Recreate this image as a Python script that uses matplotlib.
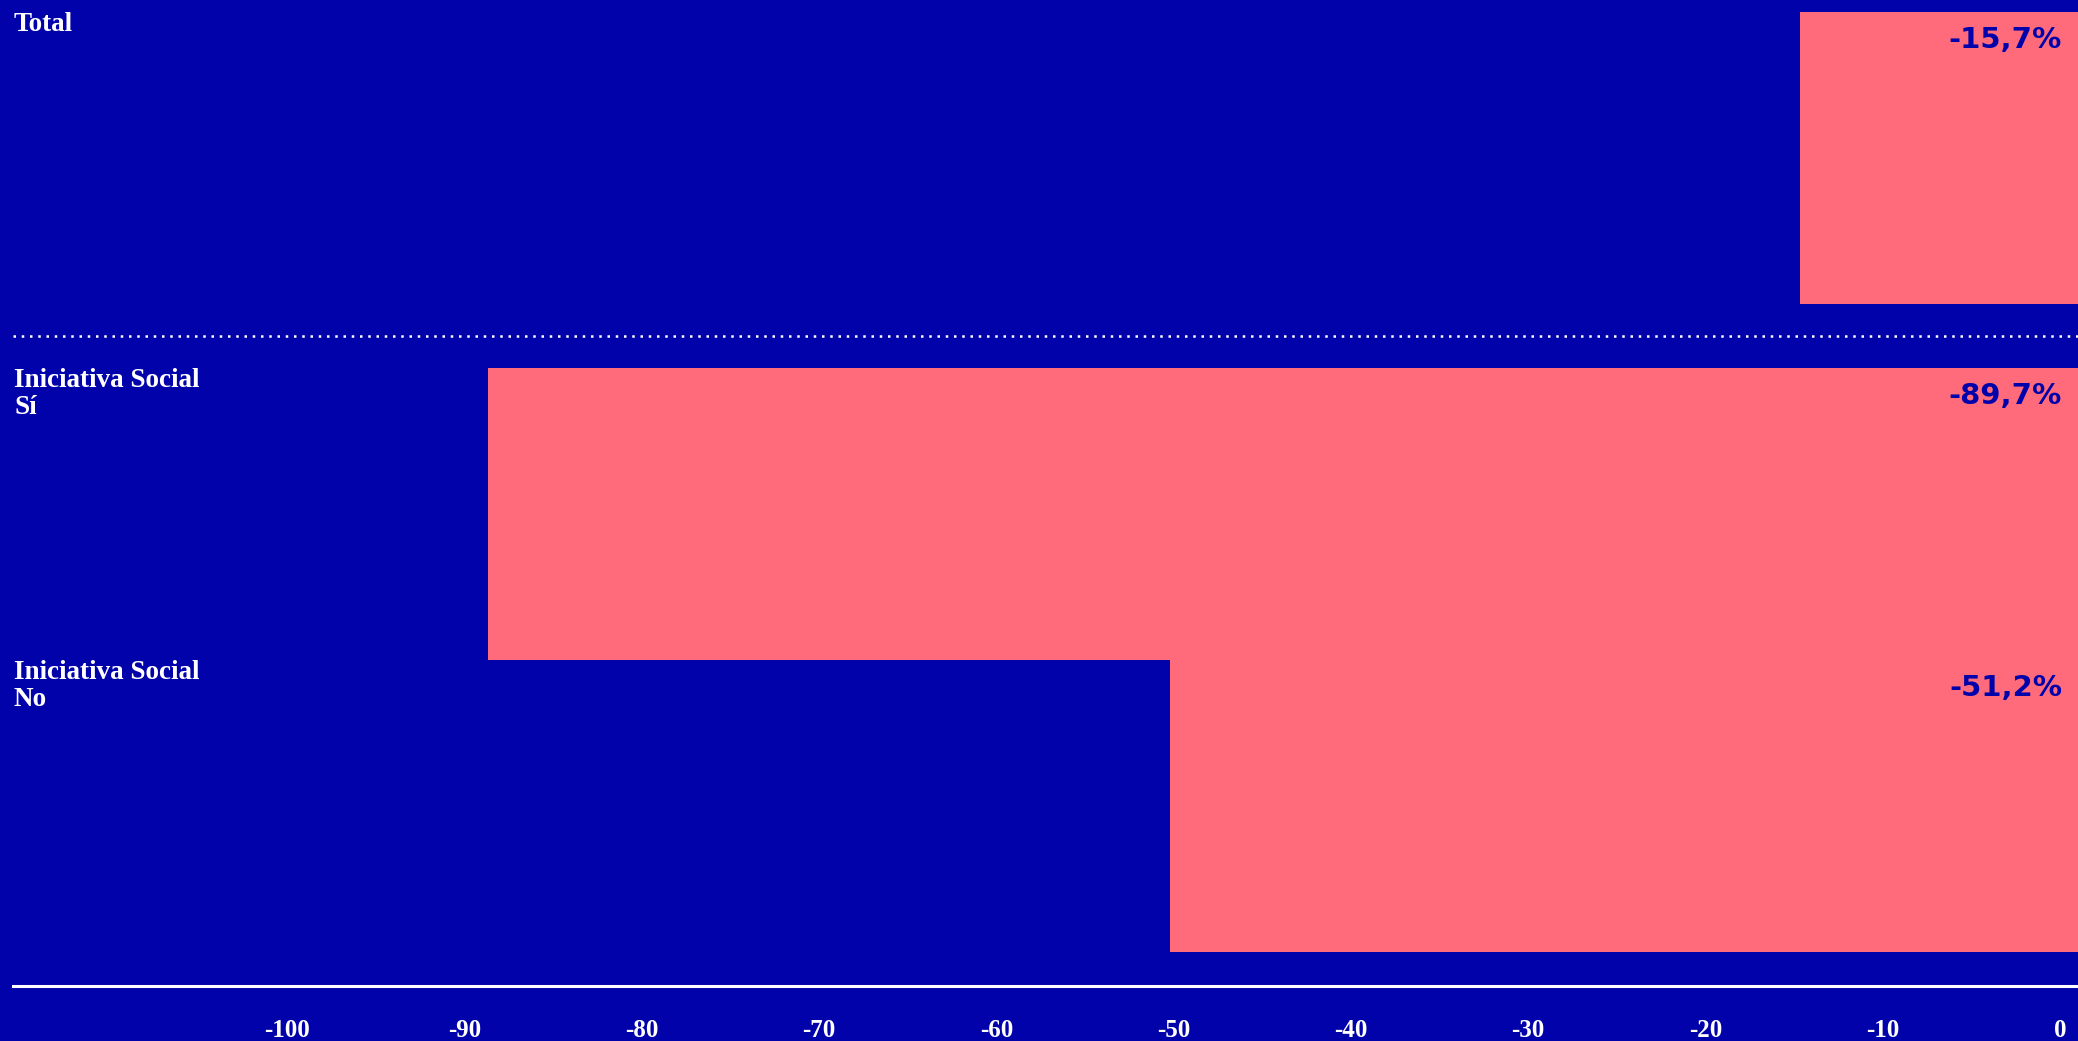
import matplotlib.pyplot as plt
import matplotlib.transforms as mtransforms

# data
categories = ['Total', 'Iniciativa Social\nSí', 'Iniciativa Social\nNo']
values = [-15.7, -89.7, -51.2]
value_labels = ['-15,7%', '-89,7%', '-51,2%']
ticks = [-100, -90, -80, -70, -60, -50, -40, -30, -20, -10, 0]

BG = '#0202AA'
BAR = '#FF6B7B'

W, H = 2078, 1041
fig = plt.figure(figsize=(W / 100, H / 100), dpi=100, facecolor=BG)
ax = fig.add_axes([13 / W, 55 / H, 1 - 13 / W, 986 / H])
ax.set_facecolor(BG)

# Total sits alone, then a gap, then the two social-initiative rows
gap = 0.22
ypos = [0, 1 + gap, 2 + gap]

ax.barh(ypos, values, height=1.0, color=BAR, linewidth=0)
ax.set_xlim(-116.5, 0)
ax.set_ylim(2.836, -0.541)

# dotted separator between Total and the rest
ax.axhline((0.5 + ypos[1] - 0.5) / 2, color='white', lw=1.8,
           linestyle=(0, (1, 2.3)), dash_capstyle='butt')

for y, cat, lab in zip(ypos, categories, value_labels):
    ax.annotate(cat, xy=(0, y - 0.5), xycoords=('axes fraction', 'data'),
                xytext=(1, 0), textcoords='offset pixels',
                ha='left', va='top', color='white', fontsize=19.5,
                fontweight='bold', family='Liberation Serif', linespacing=1.1)
    ax.annotate(lab, xy=(0, y - 0.5), xycoords='data',
                xytext=(-16, -36), textcoords='offset pixels',
                ha='right', va='baseline', color=BG, fontsize=21,
                fontweight='bold', family='DejaVu Sans')

for s in ['top', 'left', 'right']:
    ax.spines[s].set_visible(False)
ax.spines['bottom'].set_color('white')
ax.spines['bottom'].set_linewidth(2.2)
ax.set_yticks([])
ax.set_xticks(ticks)
ax.set_xticklabels([str(t) for t in ticks], family='Liberation Serif',
                   fontweight='bold', fontsize=18, color='white')
ax.tick_params(axis='x', length=0, pad=24)
shift = mtransforms.ScaledTranslation(-18 / 100, 0, fig.dpi_scale_trans)
for t in ax.get_xticklabels():
    t.set_transform(t.get_transform() + shift)

fig.savefig('out.png', dpi=100, facecolor=BG)
